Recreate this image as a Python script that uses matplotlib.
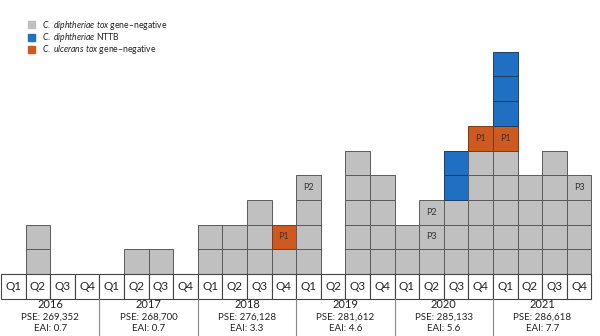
import matplotlib.pyplot as plt

plt.rcParams['font.family'] = ['Lato', 'DejaVu Sans']
plt.rcParams['mathtext.fontset'] = 'custom'
plt.rcParams['mathtext.rm'] = 'Lato'
plt.rcParams['mathtext.it'] = 'Lato:italic'

years = [2016, 2017, 2018, 2019, 2020, 2021]
pse = ['269,352', '268,700', '276,128', '281,612', '285,133', '286,618']
eai = ['0.7', '0.7', '3.3', '4.6', '5.6', '7.7']
quarters = ['Q1', 'Q2', 'Q3', 'Q4']

# cases per quarter, 2016 Q1 .. 2021 Q4
gray_counts = [0, 2, 0, 0,
               0, 1, 1, 0,
               2, 2, 3, 1,
               4, 0, 5, 4,
               2, 3, 3, 5,
               5, 4, 5, 4]
orange_counts = [0, 0, 0, 0,
                 0, 0, 0, 0,
                 0, 0, 0, 1,
                 0, 0, 0, 0,
                 0, 0, 0, 1,
                 1, 0, 0, 0]
blue_counts = [0, 0, 0, 0,
               0, 0, 0, 0,
               0, 0, 0, 0,
               0, 0, 0, 0,
               0, 0, 2, 0,
               3, 0, 0, 0]

# patient labels: quarter index, row in stack, text
label_q = [11, 12, 17, 17, 19, 20, 23]
label_row = [1, 3, 1, 2, 5, 5, 3]
label_txt = ['P1', 'P2', 'P3', 'P2', 'P1', 'P1', 'P3']

c_gray = '#c0c0c0'
c_blue = '#1f6fc2'
c_orange = '#cf5a1f'

W, H = 600, 336
qw, rh = 24.6, 24.7
base = 274

fig = plt.figure(figsize=(6, 3.36), dpi=100)
ax = fig.add_axes([0, 0, 1, 1])
ax.set_xlim(-1 / qw, (W - 1) / qw)
ax.set_ylim(-(H - base) / rh, base / rh)
ax.axis('off')

for q in range(24):
    k = 0
    for n, col, ec in [(gray_counts[q], c_gray, '#5a5a5a'),
                       (orange_counts[q], c_orange, '#7a3a18'),
                       (blue_counts[q], c_blue, '#1b3f66')]:
        for i in range(n):
            ax.bar(q, 1, bottom=k, width=1, align='edge', color=col,
                   edgecolor=ec, linewidth=0.7)
            k += 1

for q, r, t in zip(label_q, label_row, label_txt):
    ax.text(q + 0.5, r + 0.5, t, ha='center', va='center', fontsize=6.5, color='#333333')

# quarter boxes
for q in range(24):
    ax.bar(q, 1, bottom=-1, width=1, align='edge', color='white',
           edgecolor='#444444', linewidth=0.8)
    ax.text(q + 0.5, -0.5, quarters[q % 4], ha='center', va='center', fontsize=8.5, color='#222222')

for j, y in enumerate(years):
    xc = j * 4 + 2
    ax.text(xc, -1.25, str(y), ha='center', va='center', fontsize=8, color='#222222')
    ax.text(xc, -1.73, 'PSE: ' + pse[j], ha='center', va='center', fontsize=7, color='#222222')
    ax.text(xc, -2.22, 'EAI: ' + eai[j], ha='center', va='center', fontsize=7, color='#222222')
    if j > 0:
        ax.plot([j * 4, j * 4], [-1, -(H - base) / rh], color='#888888', lw=0.8)

# legend
legend_items = [(c_gray, r'$\mathit{C.\ diphtheriae\ tox}$ gene–negative'),
                (c_blue, r'$\mathit{C.\ diphtheriae}$ NTTB'),
                (c_orange, r'$\mathit{C.\ ulcerans\ tox}$ gene–negative')]
for i, (col, lab) in enumerate(legend_items):
    fy = 1 - (25 + i * 12.5) / H
    fig.patches.append(plt.Rectangle((28 / W, fy - 3.2 / H), 7 / W, 7 / H,
                                     transform=fig.transFigure, color=col))
    fig.text(42 / W, fy, lab, fontsize=6.2, va='center', ha='left', color='#222222')

fig.savefig('out.png', dpi=100)
